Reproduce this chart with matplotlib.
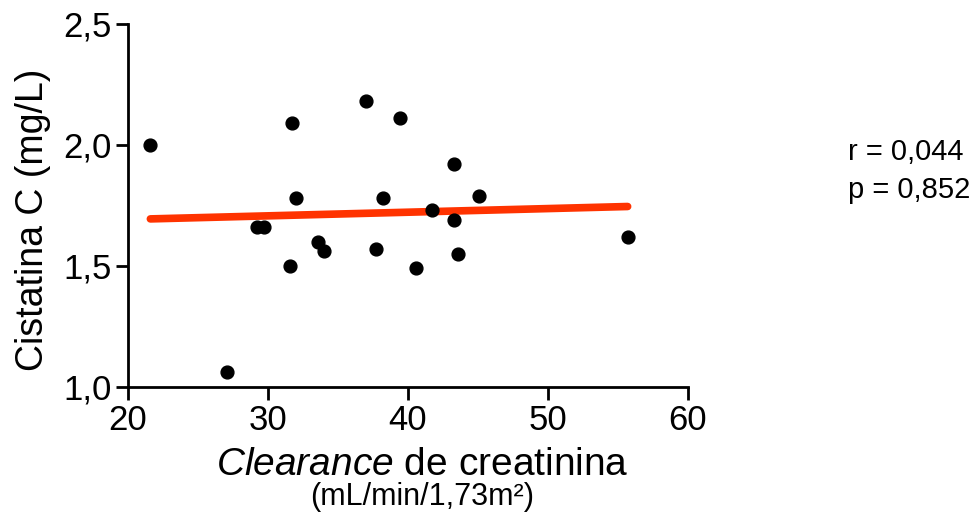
import numpy as np
import matplotlib
matplotlib.use("Agg")
from matplotlib import pyplot as plt

plt.rcParams['font.family'] = ['Liberation Sans', 'DejaVu Sans']
plt.rcParams['mathtext.fontset'] = 'custom'
plt.rcParams['mathtext.rm'] = 'Liberation Sans'
plt.rcParams['mathtext.it'] = 'Liberation Sans:italic'

# Creatinine clearance (mL/min/1.73m2) vs cystatin C (mg/L)
clearance = [21.6, 27.1, 31.7, 32.0, 29.2, 29.7, 31.6, 33.6, 34.0, 37.0,
             37.7, 38.2, 39.4, 40.6, 41.7, 43.3, 43.3, 43.6, 45.1, 55.7]
cistatina = [2.00, 1.06, 2.09, 1.78, 1.66, 1.66, 1.50, 1.60, 1.56, 2.18,
             1.57, 1.78, 2.11, 1.49, 1.73, 1.92, 1.69, 1.55, 1.79, 1.62]

x_ticks = [20, 30, 40, 50, 60]
y_ticks = [1.0, 1.5, 2.0, 2.5]
y_tick_labels = ["1,0", "1,5", "2,0", "2,5"]
stats_text = "r = 0,044\np = 0,852"

x = np.array(clearance)
y = np.array(cistatina)
slope, intercept = np.polyfit(x, y, 1)
fit_x = np.array([x.min(), x.max()])

fig = plt.figure(figsize=(9.77, 5.18), dpi=100)
ax = fig.add_axes([0.131, 0.253, 0.573, 0.701])

ax.plot(fit_x, slope * fit_x + intercept, color="#ff3300", lw=5.5,
        solid_capstyle="round", zorder=2)
ax.scatter(x, y, s=85, color="black", marker="o", zorder=3)

ax.set_xlim(20, 60)
ax.set_ylim(1.0, 2.5)
ax.set_xticks(x_ticks)
ax.set_yticks(y_ticks)
ax.set_yticklabels(y_tick_labels)
ax.tick_params(labelsize=25, width=2, length=9, direction="out", pad=3)

for side in ["top", "right"]:
    ax.spines[side].set_visible(False)
for side in ["left", "bottom"]:
    ax.spines[side].set_linewidth(2)

ax.set_ylabel("Cistatina C (mg/L)", fontsize=27)
ax.yaxis.set_label_coords(-0.137, 0.46)
ax.set_xlabel(r"$\mathit{Clearance}$ de creatinina", fontsize=28)
ax.xaxis.set_label_coords(0.525, -0.165)
fig.text(0.432, 0.04, "(mL/min/1,73m²)", fontsize=22, ha="center", va="center")

fig.text(0.868, 0.67, stats_text, fontsize=21, ha="left", va="center",
         linespacing=1.45)

fig.savefig("out.png", dpi=100)
